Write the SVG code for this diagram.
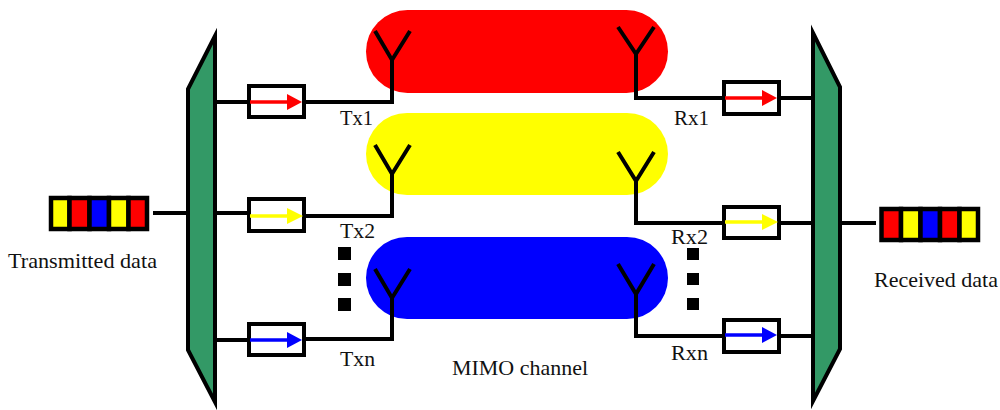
<svg xmlns="http://www.w3.org/2000/svg" width="1000" height="410" viewBox="0 0 1000 410">
<style>
.l{fill:none;stroke:#000;stroke-width:4}
.mux{fill:#339966;stroke:#000;stroke-width:4;stroke-miterlimit:12}
.box{fill:#fff;stroke:#000;stroke-width:4}
.c{stroke:#000;stroke-width:4.5}
.t{font-family:"Liberation Serif",serif;font-size:21px;fill:#111}
.d{fill:#000}
.r{fill:#f00}.y{fill:#ff0}.b{fill:#00f}
.as{stroke-width:3.5;fill:none}
</style>
<rect width="1000" height="410" fill="#fff"/>
<g id="channel-red"><rect class="r" x="366" y="10" width="302" height="83" rx="41.5"/></g>
<g id="channel-yellow"><rect class="y" x="366" y="113" width="302" height="82" rx="41"/></g>
<g id="channel-blue"><rect class="b" x="366" y="237" width="302" height="82" rx="41"/></g>
<g id="connectors">
<path class="l" d="M153 213H188M215 102H249M304 102H392V60M375 31L392 60L410 31"/>
<path class="l" d="M215 213H249M304 216H392V174M375 145L392 174L410 145"/>
<path class="l" d="M215 340H249M304 339H392V298M375 269L392 298L410 269"/>
<path class="l" d="M779 98H813M724 98H636V54M618 27L636 54L654 27"/>
<path class="l" d="M779 223H813M724 223H636V181M618 152L636 181L654 152"/>
<path class="l" d="M779 336H813M724 336H636V294M618 264L636 294L654 264"/>
<path class="l" d="M840 223H876"/>
</g>
<g id="mux-tx"><polygon class="mux" points="215,36 188,89 188,350 215,402"/></g>
<g id="mux-rx"><polygon class="mux" points="813,33 840,87 840,349 813,401"/></g>
<g id="source-data">
<rect class="c y" x="51" y="198" width="18.500" height="31"/><rect class="c r" x="69.500" y="198" width="20" height="31"/><rect class="c b" x="89.500" y="198" width="19.500" height="31"/><rect class="c y" x="109" y="198" width="19.500" height="31"/><rect class="c r" x="128.500" y="198" width="18.500" height="31"/>
</g>
<g id="sink-data">
<rect class="c r" x="881.500" y="209" width="19.500" height="31"/><rect class="c y" x="901" y="209" width="19.500" height="31"/><rect class="c b" x="920.500" y="209" width="19.500" height="31"/><rect class="c r" x="940" y="209" width="19.500" height="31"/><rect class="c y" x="959.500" y="209" width="18.500" height="31"/>
</g>
<g id="tx1"><rect class="box" x="249" y="86" width="55" height="31"/><path class="as" stroke="#f00" d="M250 102H288"/><polygon class="r" points="287,94 302,102 287,110"/></g>
<g id="tx2"><rect class="box" x="249" y="199" width="55" height="32"/><path class="as" stroke="#ff0" d="M250 216H288"/><polygon class="y" points="287,208 303,216 287,224"/></g>
<g id="txn"><rect class="box" x="249" y="324" width="55" height="31"/><path class="as" stroke="#00f" d="M250 340H288"/><polygon class="b" points="287,332 302,340 287,348"/></g>
<g id="rx1"><rect class="box" x="724" y="82" width="55" height="32"/><path class="as" stroke="#f00" d="M725 98H763"/><polygon class="r" points="762,90 777,98 762,106"/></g>
<g id="rx2"><rect class="box" x="724" y="207" width="55" height="31"/><path class="as" stroke="#ff0" d="M725 222H763"/><polygon class="y" points="762,214 778,222 762,230"/></g>
<g id="rxn"><rect class="box" x="724" y="320" width="55" height="32"/><path class="as" stroke="#00f" d="M725 335H763"/><polygon class="b" points="762,327 777,335 762,343"/></g>
<g id="dots-tx"><rect class="d" x="338" y="247" width="13" height="13"/><rect class="d" x="338" y="273" width="13" height="13"/><rect class="d" x="338" y="298" width="13" height="13"/></g>
<g id="dots-rx"><rect class="d" x="687" y="248" width="12" height="12"/><rect class="d" x="687" y="273" width="12" height="12"/><rect class="d" x="687" y="298" width="12" height="12"/></g>
<g id="labels">
<text class="t" x="8" y="268" textLength="149" lengthAdjust="spacingAndGlyphs">Transmitted data</text>
<text class="t" x="874" y="287" textLength="124" lengthAdjust="spacingAndGlyphs">Received data</text>
<text class="t" x="340" y="125" textLength="33" lengthAdjust="spacingAndGlyphs">Tx1</text>
<text class="t" x="340" y="238" textLength="35" lengthAdjust="spacingAndGlyphs">Tx2</text>
<text class="t" x="340" y="366" textLength="35" lengthAdjust="spacingAndGlyphs">Txn</text>
<text class="t" x="674" y="125" textLength="35" lengthAdjust="spacingAndGlyphs">Rx1</text>
<text class="t" x="671" y="244" textLength="37" lengthAdjust="spacingAndGlyphs">Rx2</text>
<text class="t" x="671" y="360" textLength="37" lengthAdjust="spacingAndGlyphs">Rxn</text>
<text class="t" x="452" y="375" textLength="136" lengthAdjust="spacingAndGlyphs">MIMO channel</text>
</g>
</svg>
